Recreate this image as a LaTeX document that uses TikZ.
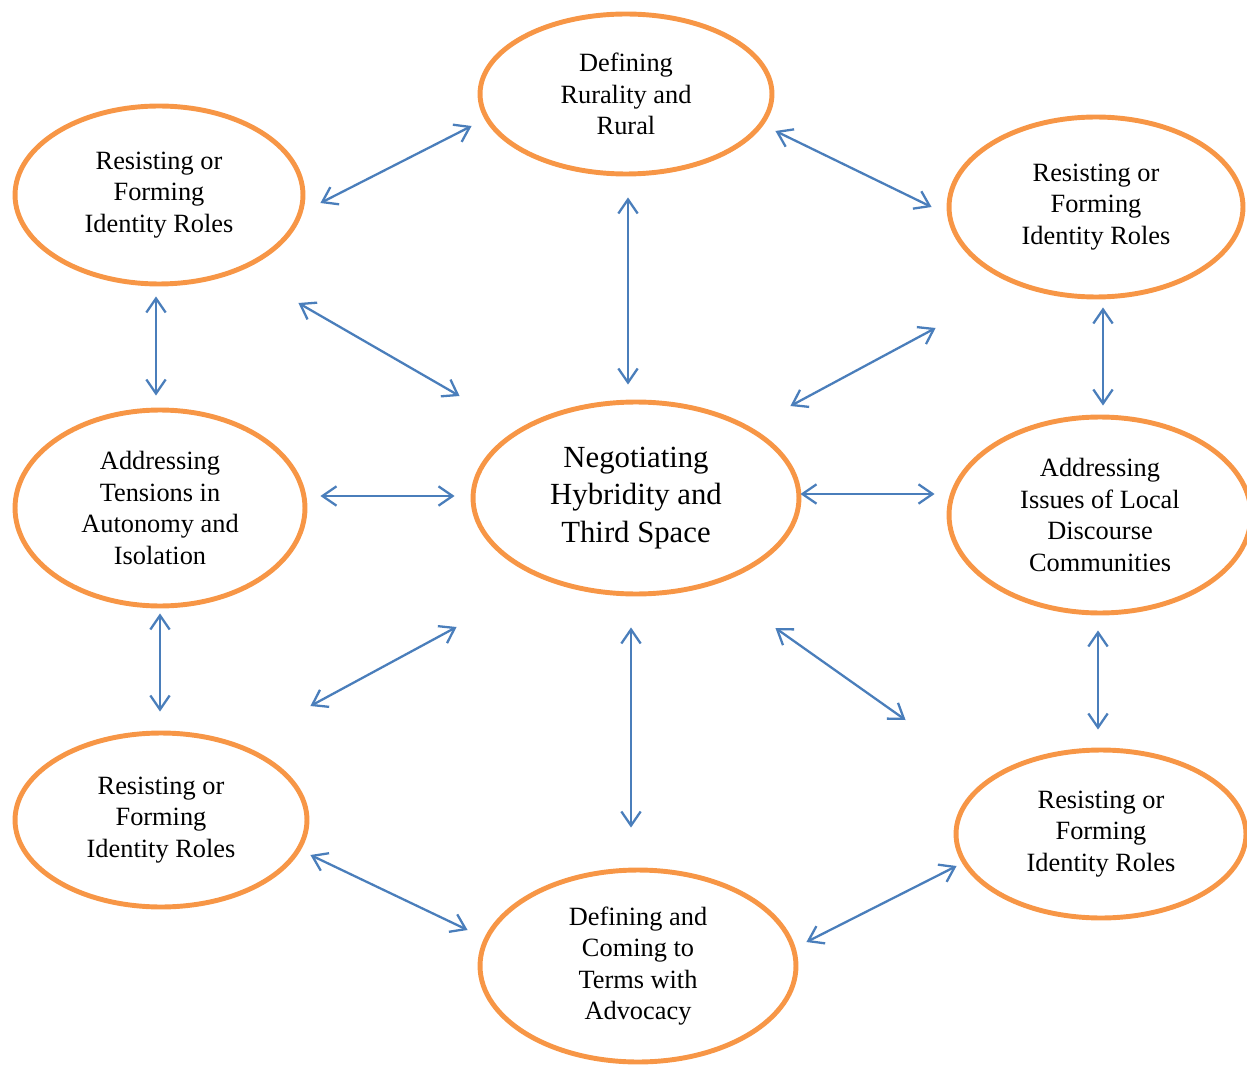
\documentclass[tikz,border=0pt]{standalone}
\usepackage{fontspec}
\setmainfont{Liberation Serif}
\usetikzlibrary{arrows.meta,shapes.geometric}
\definecolor{themeorange}{RGB}{247,150,70}
\definecolor{linkblue}{RGB}{74,126,187}
\begin{document}
\begin{tikzpicture}[x=0.02cm,y=-0.02cm,
  theme/.style={ellipse,draw=themeorange,line width=2.8pt,align=center,inner sep=0pt,
    font=\fontsize{15}{18}\selectfont},
  core/.style={theme,font=\fontsize{17.5}{21.5}\selectfont},
  link/.style={draw=linkblue,line width=1.3pt,
    {Straight Barb[length=8pt,width=11pt]}-{Straight Barb[length=8pt,width=11pt]}}]
		\clip (0,0) rectangle (1247,1067);
		\node[theme,minimum width=5.84cm,minimum height=3.20cm] (top) at (626,94) {Defining\\Rurality and\\Rural};
		\node[theme,minimum width=5.76cm,minimum height=3.56cm] (tl) at (159,195) {Resisting or\\Forming\\Identity Roles};
		\node[theme,minimum width=5.88cm,minimum height=3.60cm] (tr) at (1096,207) {Resisting or\\Forming\\Identity Roles};
		\node[core,minimum width=6.52cm,minimum height=3.84cm] (mid) at (636,498) {Negotiating\\Hybridity and\\Third Space};
		\node[theme,minimum width=5.80cm,minimum height=3.92cm] (lm) at (160,508) {Addressing\\Tensions in\\Autonomy and\\Isolation};
		\node[theme,minimum width=6.04cm,minimum height=3.92cm] (rm) at (1100,515) {Addressing\\Issues of Local\\Discourse\\Communities};
		\node[theme,minimum width=5.84cm,minimum height=3.48cm] (bl) at (161,820) {Resisting or\\Forming\\Identity Roles};
		\node[theme,minimum width=6.32cm,minimum height=3.84cm] (bot) at (638,966) {Defining and\\Coming to\\Terms with\\Advocacy};
		\node[theme,minimum width=5.80cm,minimum height=3.36cm] (br) at (1101,834) {Resisting or\\Forming\\Identity Roles};
		
		% links between the themes
		\foreach \f/\fa/\t/\ta in {tl.east/{15,8}/top.west/{-6,32},
			top.east/{1,37}/tr.west/{-15,0},
			top.south/{2,21}/mid.north/{-8,-15},
			tl.south/{-3,10}/lm.north/{-4,-12},
			tl.east/{-7,108}/mid.west/{-11,-102},
			tr.south/{7,8}/rm.north/{3,-9},
			tr.west/{-11,121}/mid.east/{-11,-92},
			lm.east/{13,-12}/mid.west/{-16,-2},
			mid.east/{-1,-4}/rm.west/{-12,-21},
			lm.south/{0,5}/bl.north/{-1,-19},
			mid.west/{-14,129}/bl.east/{1,-114},
			mid.south/{-5,31}/bot.north/{-7,-40},
			mid.east/{-26,130}/br.west/{-48,-114},
			rm.south/{-2,15}/br.north/{-3,-18},
			bl.east/{1,35}/bot.west/{-10,-36},
			bot.east/{8,-24}/br.west/{3,32}}{
			\draw[link] ([shift={(\fa)}]\f) -- ([shift={(\ta)}]\t);
		}
	\end{tikzpicture}
\end{document}
